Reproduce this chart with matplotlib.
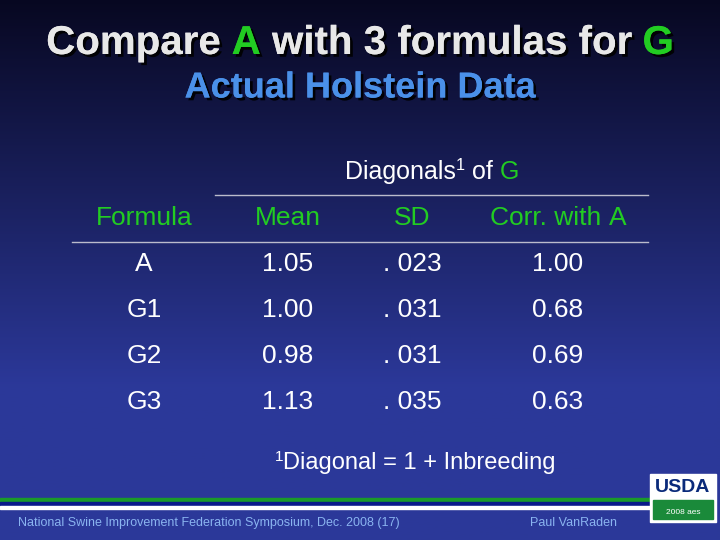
import numpy as np
import matplotlib.pyplot as plt
import matplotlib.patheffects as pe
from matplotlib.patches import Rectangle

# table data
columns = ["Formula", "Mean", "SD", "Corr. with "]
formulas = ["A", "G1", "G2", "G3"]
means = ["1.05", "1.00", "0.98", "1.13"]
sds = [". 023", ". 031", ". 031", ". 035"]
corrs = ["1.00", "0.68", "0.69", "0.63"]

GREEN = "#22cc22"
fam = "Liberation Sans"
fig = plt.figure(figsize=(7.2, 5.4), dpi=100)
ax = fig.add_axes([0, 0, 1, 1])
ax.set_xlim(0, 720)
ax.set_ylim(540, 0)
ax.axis("off")

# background gradient, dark navy at top to blue lower down
grad = np.linspace(0, 1, 256).reshape(-1, 1)
top = np.array([0.03, 0.03, 0.13])
bot = np.array([0.17, 0.22, 0.60])
img = top + (bot - top) * np.clip(grad * 1.4, 0, 1)[:, :, None]
ax.imshow(img, extent=[0, 720, 540, 0], aspect="auto", zorder=0)

shadow = [pe.withSimplePatchShadow(offset=(2, -2), shadow_rgbFace="black", alpha=0.9), pe.Normal()]
r = fig.canvas.get_renderer()


def run(parts, y, size, cx=360, bold=True, effects=None):
    # lay text parts (text, colour, size scale, dy) side by side, centred on cx
    weight = "bold" if bold else "normal"
    widths = []
    for p in parts:
        s, sc = p[0], p[2] if len(p) > 2 else 1
        t = ax.text(0, 0, s.replace(" ", "\u00a0"), fontsize=size * sc, fontweight=weight, family=fam)
        widths.append(t.get_window_extent(r).width)
        t.remove()
    x = cx - sum(widths) / 2
    for p, w in zip(parts, widths):
        s, c = p[0], p[1]
        sc = p[2] if len(p) > 2 else 1
        dy = p[3] if len(p) > 3 else 0
        ax.text(x, y + dy, s.replace(" ", "\u00a0"), fontsize=size * sc, fontweight=weight, family=fam,
                color=c, va="center", ha="left", zorder=3, path_effects=effects)
        x += w


run([("Compare ", "#e8e8e8"), ("A", GREEN), (" with 3 formulas for ", "#e8e8e8"), ("G", GREEN)], 43, 29,
    effects=shadow)
run([("Actual Holstein Data", "#4a90e8")], 88, 26, effects=shadow)

# header
run([("Diagonals", "white"), ("1", "white", 0.65, -6), (" of ", "white"), ("G", GREEN)], 172, 18,
    cx=432, bold=False)
ax.plot([215, 648], [195, 195], color="#bbbbcc", lw=1)
ax.plot([72, 648], [242, 242], color="#bbbbcc", lw=1)

xs = [144, 288, 412, 558]
for x, col in zip(xs[:3], columns[:3]):
    ax.text(x, 218, col, fontsize=19, family=fam, color=GREEN, ha="center", va="center")
run([(columns[3], GREEN), ("A", GREEN)], 218, 19, cx=xs[3], bold=False)

ys = [264, 310, 356, 402]
for i in range(len(formulas)):
    for x, val in zip(xs, [formulas[i], means[i], sds[i], corrs[i]]):
        ax.text(x, ys[i], val, fontsize=19, family=fam, color="white", ha="center", va="center")

run([("1", "white", 0.65, -6), ("Diagonal = 1 + Inbreeding", "white")], 463, 17, cx=415, bold=False)

# footer stripes
ax.add_patch(Rectangle((0, 498), 650, 4, color="#1a9a2a", zorder=2))
ax.add_patch(Rectangle((0, 502), 650, 4, color="#0a1a8a", zorder=2))
ax.add_patch(Rectangle((0, 506), 650, 3, color="white", zorder=2))
ax.text(18, 523, "National Swine Improvement Federation Symposium, Dec. 2008 (17)",
        fontsize=9, family=fam, color="#8ab4f0", va="center")
ax.text(530, 523, "Paul VanRaden", fontsize=9, family=fam, color="#8ab4f0", va="center")

# USDA logo
ax.add_patch(Rectangle((650, 474), 66, 48, color="white", zorder=2))
ax.add_patch(Rectangle((653, 500), 60, 19, color="#1a8a3a", zorder=3))
ax.text(683, 488, "USDA", fontsize=14, fontweight="bold", family=fam, color="#0a2a7a",
        ha="center", va="center", zorder=4)
ax.text(683, 512, "2008 aes", fontsize=6, family=fam, color="white", ha="center", va="center", zorder=4)

fig.savefig("out.png", dpi=100)
